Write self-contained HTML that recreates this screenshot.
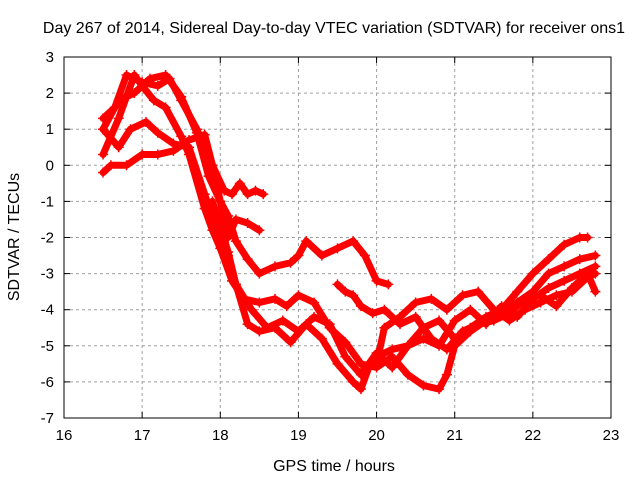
<!DOCTYPE html>
<html><head><meta charset="utf-8"><style>
body{margin:0;background:#fff}
svg{display:block;font-family:"Liberation Sans",sans-serif;font-size:15px}
</style></head><body>
<svg id="chart" width="640" height="480">
<rect width="640" height="480" fill="#fff"/>
<text x="334" y="33" text-anchor="middle" style="font-size:16px">Day 267 of 2014, Sidereal Day-to-day VTEC variation (SDTVAR) for receiver ons1</text>
<text x="334" y="471" text-anchor="middle" style="font-size:16px">GPS time / hours</text>
<text transform="translate(19,237) rotate(-90)" text-anchor="middle" style="font-size:16px">SDTVAR / TECUs</text>
<g id="grid"></g><g id="series"></g>
<rect x="64" y="57" width="547" height="361" fill="none" stroke="#000" stroke-width="1"/>
</svg>
<script>
const xTicks=[16,17,18,19,20,21,22,23];
const yTicks=[3,2,1,0,-1,-2,-3,-4,-5,-6,-7];
const s1x=[16.5,16.65,16.8,17.0,17.2,17.35,17.5,17.7,17.9,18.05,18.15,18.25,18.35,18.45,18.55];
const s1y=[1.3,1.6,2.5,2.3,2.2,2.4,1.8,1.0,0.0,-0.7,-0.8,-0.5,-0.8,-0.7,-0.8];
const s2x=[16.5,16.7,16.9,17.1,17.3,17.5,17.7,17.85,18.0,18.1,18.2,18.35,18.5];
const s2y=[1.0,1.8,2.0,2.4,2.5,1.9,0.9,-0.3,-1.0,-2.0,-1.5,-1.6,-1.8];
const s3x=[16.5,16.6,16.8,17.0,17.2,17.4,17.6,17.8,17.9,18.0,18.1,18.2,18.35,18.5,18.7,18.9,19.0,19.1,19.3,19.5,19.7,19.85,20.0,20.15];
const s3y=[-0.2,0.0,0.0,0.3,0.3,0.4,0.7,0.85,0.0,-1.0,-1.4,-2.1,-2.6,-3.0,-2.8,-2.7,-2.5,-2.1,-2.5,-2.3,-2.1,-2.5,-3.2,-3.3];
const s4x=[16.5,16.7,16.9,17.0,17.15,17.3,17.5,17.6,17.8,17.9,18.0,18.15,18.3,18.5,18.7,18.85,19.0,19.2,19.4,19.6,19.8,20.0,20.2,20.4,20.6,20.8,20.9,21.0,21.2,21.4,21.6,21.8,22.0,22.2,22.4,22.6,22.7];
const s4y=[0.3,1.3,2.5,2.2,1.8,1.6,0.8,0.3,-1.2,-1.8,-2.3,-3.2,-3.7,-3.8,-3.7,-3.9,-3.6,-3.8,-4.5,-4.9,-5.5,-5.6,-5.3,-5.8,-6.1,-6.2,-5.8,-5.0,-4.6,-4.3,-4.0,-3.5,-3.0,-2.6,-2.2,-2.0,-2.0];
const s5x=[16.5,16.7,16.85,17.05,17.2,17.4,17.6,17.8,17.95,18.1,18.2,18.4,18.6,18.8,19.0,19.2,19.4,19.6,19.8,20.0,20.2,20.4,20.6,20.8,21.0,21.2,21.4,21.6,21.8,22.0,22.2,22.4,22.6,22.8];
const s5y=[1.0,0.5,1.0,1.2,0.9,0.6,0.5,-0.8,-1.8,-2.5,-3.3,-4.0,-4.5,-4.3,-4.6,-4.2,-4.4,-5.3,-5.8,-5.2,-5.6,-5.0,-4.5,-4.3,-4.8,-4.5,-4.2,-4.0,-3.8,-3.5,-3.0,-2.8,-2.6,-2.5];
const s6x=[17.9,18.0,18.1,18.2,18.35,18.5,18.7,18.9,19.1,19.3,19.5,19.7,19.8,19.9,20.0,20.1,20.3,20.5,20.7,20.9,21.1,21.3,21.5,21.7,21.9,22.1,22.3,22.5,22.7,22.8];
const s6y=[-1.0,-1.7,-2.4,-3.3,-4.4,-4.6,-4.5,-4.9,-4.4,-4.8,-5.5,-6.0,-6.2,-5.6,-5.5,-4.5,-4.2,-3.8,-3.7,-4.0,-3.6,-3.5,-4.0,-4.3,-4.0,-3.8,-3.6,-3.5,-3.1,-3.0];
const s7x=[19.5,19.6,19.7,19.8,19.95,20.1,20.3,20.5,20.7,20.9,21.1,21.3,21.5,21.7,21.9,22.1,22.3,22.5,22.7,22.8];
const s7y=[-3.3,-3.5,-3.6,-3.9,-4.1,-4.0,-4.4,-4.2,-4.8,-5.1,-4.6,-4.4,-4.3,-4.1,-3.7,-3.6,-3.9,-3.4,-3.0,-3.5];
const s8x=[20.0,20.2,20.4,20.6,20.8,21.0,21.2,21.4,21.6,21.8,22.0,22.2,22.4,22.6,22.8];
const s8y=[-5.3,-5.1,-5.0,-4.8,-5.0,-4.3,-4.0,-4.4,-3.9,-4.2,-3.7,-3.4,-3.2,-3.0,-2.8];
const allX=[s1x,s2x,s3x,s4x,s5x,s6x,s7x,s8x];
const allY=[s1y,s2y,s3y,s4y,s5y,s6y,s7y,s8y];
const NS="http://www.w3.org/2000/svg";
const L=64,R=611,T=57,B=418;
function xs(h){return L+(h-16)/7*(R-L);}
function ys(v){return T+(3-v)/10*(B-T);}
function mk(tag,attrs,parent){const e=document.createElementNS(NS,tag);for(const k in attrs)e.setAttribute(k,attrs[k]);parent.appendChild(e);return e;}
const grid=document.getElementById('grid');
xTicks.forEach(t=>{const x=xs(t);
 if(t>16&&t<23){const g=mk('line',{x1:x,x2:x,y1:T,y2:B,stroke:'#a0a0a0','stroke-dasharray':'3,3'},grid);
 
 }
 mk('line',{x1:x,x2:x,y1:B,y2:B-6,stroke:'#000'},grid);mk('line',{x1:x,x2:x,y1:T,y2:T+6,stroke:'#000'},grid);
 const tx=mk('text',{x:x,y:B+22,'text-anchor':'middle'},grid);tx.textContent=t;
 
 });
yTicks.forEach(t=>{const y=ys(t);
 if(t<3&&t>-7){const g=mk('line',{x1:L,x2:R,y1:y,y2:y,stroke:'#a0a0a0','stroke-dasharray':'3,3'},grid);
 
 }
 mk('line',{x1:L,x2:L+6,y1:y,y2:y,stroke:'#000'},grid);mk('line',{x1:R,x2:R-6,y1:y,y2:y,stroke:'#000'},grid);
 const tx=mk('text',{x:L-10,y:y+5,'text-anchor':'end'},grid);tx.textContent=t;
 
 });
const sg=document.getElementById('series');
allX.forEach((xa,i)=>{const ya=allY[i];
 const g=mk('g',{},sg);
 
 
 mk('polyline',{points:xa.map((h,j)=>xs(h)+','+ys(ya[j])).join(' '),fill:'none',stroke:'#f00','stroke-width':7,'stroke-linejoin':'round','stroke-linecap':'round'},g);
 xa.forEach((h,j)=>{const x=xs(h),y=ys(ya[j]);
  const p=mk('path',{d:`M${x-5},${y}H${x+5}M${x},${y-5}V${y+5}`,stroke:'#f00','stroke-width':1.5},g);
  
  });
});
</script>
</body></html>
